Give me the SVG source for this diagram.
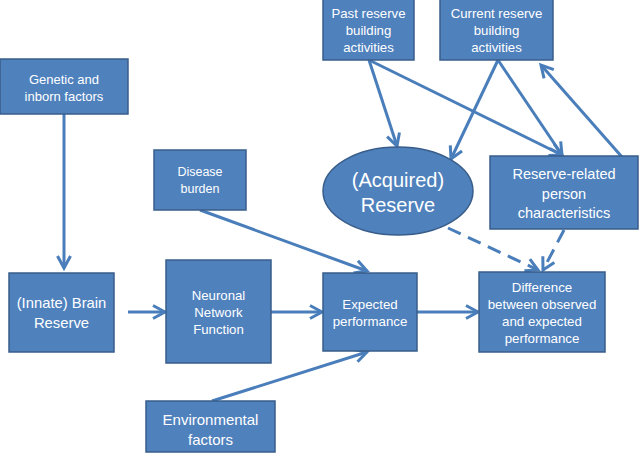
<svg xmlns="http://www.w3.org/2000/svg" width="640" height="457" viewBox="0 0 640 457">
<style>
.box{fill:#4F81BD;stroke:#385D8A;stroke-width:1.5}
.t{fill:#FFFFFF;font-family:"Liberation Sans",Arial,sans-serif;text-anchor:middle}
.c{fill:none;stroke:#4A7EBB;stroke-width:3;marker-end:url(#ah)}
.d{stroke-dasharray:14 8}
</style>
<defs>
<marker id="ah" markerUnits="userSpaceOnUse" markerWidth="16" markerHeight="16" refX="13" refY="7" orient="auto" overflow="visible">
<path d="M1,0.5 L13,7 L1,13.5" fill="none" stroke="#4A7EBB" stroke-width="3"/>
</marker>
</defs>
<rect width="640" height="457" fill="#FFFFFF"/>
<g id="connectors">
<line class="c" x1="64" y1="114" x2="64" y2="268"/>
<line class="c" x1="128" y1="312" x2="165" y2="312"/>
<line class="c" x1="271" y1="312" x2="322" y2="312"/>
<line class="c" x1="200" y1="210" x2="367" y2="271"/>
<line class="c" x1="212" y1="401" x2="367" y2="352"/>
<line class="c" x1="417" y1="312" x2="478" y2="312"/>
<line class="c" x1="369" y1="60" x2="397" y2="146"/>
<line class="c" x1="369" y1="60" x2="562" y2="155"/>
<line class="c" x1="498" y1="60" x2="451" y2="159"/>
<line class="c" x1="498" y1="60" x2="562" y2="155"/>
<line class="c" x1="622" y1="157" x2="541" y2="65"/>
<line class="c d" x1="448" y1="228" x2="538" y2="270"/>
<line class="c d" x1="564" y1="230" x2="543" y2="270"/>
</g>
<g id="past">
<rect class="box" x="323" y="-2" width="91" height="62"/>
<text class="t" font-size="13.2" x="368.5" y="18">Past reserve</text>
<text class="t" font-size="13.2" x="368.5" y="35">building</text>
<text class="t" font-size="13.2" x="368.5" y="52">activities</text>
</g>
<g id="current">
<rect class="box" x="440" y="-2" width="113" height="62"/>
<text class="t" font-size="13.2" x="496.5" y="18">Current reserve</text>
<text class="t" font-size="13.2" x="496.5" y="35">building</text>
<text class="t" font-size="13.2" x="496.5" y="52">activities</text>
</g>
<g id="genetic">
<rect class="box" x="0" y="59" width="128" height="55"/>
<text class="t" font-size="13" x="64" y="84">Genetic and</text>
<text class="t" font-size="13" x="64" y="101">inborn factors</text>
</g>
<g id="acquired">
<ellipse class="box" cx="398" cy="191" rx="75" ry="44"/>
<text class="t" font-size="20" x="398" y="187">(Acquired)</text>
<text class="t" font-size="20" x="398" y="212">Reserve</text>
</g>
<g id="personchar">
<rect class="box" x="490" y="156" width="148" height="73"/>
<text class="t" font-size="14.5" x="564" y="179">Reserve-related</text>
<text class="t" font-size="14.5" x="564" y="199">person</text>
<text class="t" font-size="14.5" x="564" y="218">characteristics</text>
</g>
<g id="disease">
<rect class="box" x="154" y="150" width="92" height="60"/>
<text class="t" font-size="12.5" x="200" y="176">Disease</text>
<text class="t" font-size="12.5" x="200" y="193">burden</text>
</g>
<g id="innate">
<rect class="box" x="9" y="273" width="105" height="79"/>
<text class="t" font-size="14.8" x="61.5" y="308">(Innate) Brain</text>
<text class="t" font-size="14.8" x="61.5" y="328">Reserve</text>
</g>
<g id="neuronal">
<rect class="box" x="166" y="260" width="105" height="103"/>
<text class="t" font-size="13.2" x="218.5" y="300">Neuronal</text>
<text class="t" font-size="13.2" x="218.5" y="317">Network</text>
<text class="t" font-size="13.2" x="218.5" y="334">Function</text>
</g>
<g id="expected">
<rect class="box" x="323" y="273" width="94" height="78"/>
<text class="t" font-size="13.3" x="370" y="309">Expected</text>
<text class="t" font-size="13.3" x="370" y="326">performance</text>
</g>
<g id="difference">
<rect class="box" x="479" y="272" width="126" height="80"/>
<text class="t" font-size="13.3" x="542" y="292">Difference</text>
<text class="t" font-size="13.3" x="542" y="309">between observed</text>
<text class="t" font-size="13.3" x="542" y="326">and expected</text>
<text class="t" font-size="13.3" x="542" y="343">performance</text>
</g>
<g id="environmental">
<rect class="box" x="146" y="401" width="129" height="51"/>
<text class="t" font-size="15" x="210.5" y="425">Environmental</text>
<text class="t" font-size="15" x="210.5" y="445">factors</text>
</g>
</svg>
